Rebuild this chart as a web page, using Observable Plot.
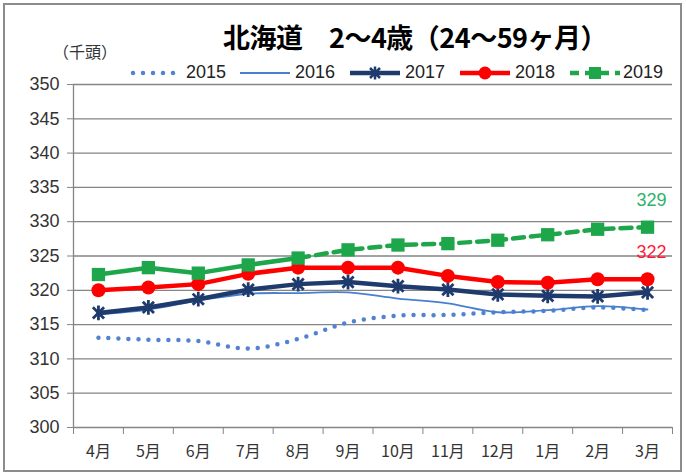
<!DOCTYPE html>
<html>
<head>
<meta charset="utf-8">
<script src="https://cdn.jsdelivr.net/npm/d3@7"></script>
<script src="https://cdn.jsdelivr.net/npm/@observablehq/plot@0.6"></script>
<style>
  html, body { margin: 0; padding: 0; background: #fff; }
  #wrap { position: relative; width: 686px; height: 475px; overflow: hidden; font-family: "Liberation Sans", Arial, "Noto Sans CJK JP", sans-serif; }
  #frame { position: absolute; left: 3px; top: 3px; width: 679px; height: 469px; box-sizing: border-box; border: 2px solid #8c8c8c; pointer-events: none; }
  #header { position: relative; height: 70px; }
  #title { position: absolute; left: 0; width: 686px; top: 19px; text-align: center; padding-left: 144px; box-sizing: border-box; font-family: "Noto Sans CJK JP", sans-serif; font-weight: bold; font-size: 27px; line-height: 36px; color: #000; white-space: pre; letter-spacing: -0.5px; }
  #unit { position: absolute; left: 53px; top: 39px; font-family: "Noto Sans CJK JP", sans-serif; font-size: 16px; color: #333; white-space: pre; }
  .lg { position: absolute; top: 62px; height: 22px; }
  .lg svg { position: absolute; top: 0; }
  .lg span { position: absolute; top: 0px; font-size: 18px; line-height: 21px; color: #222; }
  #chart svg { display: block; overflow: visible; }
</style>
</head>
<body>
<div id="wrap">
  <div id="header">
    <div id="title"></div>
    <div id="unit"></div>
    <div id="legend"></div>
  </div>
  <div id="chart"></div>
  <div id="frame"></div>
</div>
<script>
// ---- data ----
const titleText = "北海道　2～4歳（24～59ヶ月）";
const unitText = "（千頭）";
const months = ["4月","5月","6月","7月","8月","9月","10月","11月","12月","1月","2月","3月"];
const years = ["2015","2016","2017","2018","2019"];
const v2015 = [313.1, 312.8, 312.6, 311.5, 312.9, 315.3, 316.3, 316.4, 316.8, 317.0, 317.5, 317.1];
const v2016 = [316.5, 317.2, 318.5, 319.5, 319.6, 319.7, 318.8, 318.1, 316.8, 317.1, 317.7, 317.2];
const v2017 = [316.7, 317.5, 318.7, 320.1, 320.9, 321.2, 320.6, 320.1, 319.4, 319.2, 319.1, 319.7];
const v2018 = [320.0, 320.4, 320.9, 322.4, 323.3, 323.3, 323.3, 322.1, 321.2, 321.1, 321.6, 321.6];
const v2019 = [322.3, 323.3, 322.5, 323.7, 324.7, 325.9, 326.6, 326.8, 327.3, 328.1, 328.9, 329.2];
const lastActual2019 = 4; // 8月: solid up to here, dashed after
const yTicks = [300, 305, 310, 315, 320, 325, 330, 335, 340, 345, 350];

const colors = {
  "2015": "#5283d2",
  "2016": "#4a7fd0",
  "2017": "#1f3a6c",
  "2018": "#ff0000",
  "2019": "#1ea64b"
};

// ---- header ----
document.getElementById("title").textContent = titleText;
document.getElementById("unit").textContent = unitText;

const legendPos = { "2015": [130, 186], "2016": [240, 295], "2017": [350, 405], "2018": [460, 515], "2019": [570, 623] };
const legend = document.getElementById("legend");
for (const y of years) {
  const [lx, tx] = legendPos[y];
  const item = document.createElement("div");
  item.className = "lg";
  item.style.left = "0px";
  const w = 50, c = colors[y];
  let inner = "";
  if (y === "2015") inner = `<line x1="3" y1="11" x2="${w}" y2="11" stroke="${c}" stroke-width="4.5" stroke-linecap="round" stroke-dasharray="0 10"/>`;
  if (y === "2016") inner = `<line x1="0" y1="11" x2="${w}" y2="11" stroke="${c}" stroke-width="2"/>`;
  if (y === "2017") inner = `<line x1="0" y1="11" x2="${w}" y2="11" stroke="${c}" stroke-width="4.5"/><path d="M${w/2-5},6L${w/2+5},16M${w/2-5},16L${w/2+5},6M${w/2},4.5L${w/2},17.5" stroke="${c}" stroke-width="2.5"/>`;
  if (y === "2018") inner = `<line x1="0" y1="11" x2="${w}" y2="11" stroke="${c}" stroke-width="4.5"/><circle cx="${w/2}" cy="11" r="6.5" fill="${c}"/>`;
  if (y === "2019") inner = `<line x1="0" y1="11" x2="${w}" y2="11" stroke="${c}" stroke-width="4.5" stroke-dasharray="9 6" stroke-dashoffset="0"/><rect x="${w/2-6}" y="5" width="12" height="12" fill="${c}"/>`;
  item.innerHTML = `<svg width="${w}" height="22" style="left:${lx}px">${inner}</svg><span style="left:${tx}px">${y}</span>`;
  legend.appendChild(item);
}

// ---- chart data table ----
const idx = months.map((m, i) => i);
const series = { "2015": v2015, "2016": v2016, "2017": v2017, "2018": v2018, "2019": v2019 };
const rows = y => idx.map(i => ({ i, v: series[y][i], year: y }));
const r2019 = rows("2019");
const solid2019 = r2019.filter(d => d.i <= lastActual2019);
const dash2019 = r2019.filter(d => d.i >= lastActual2019);
const endLabels = [
  { i: 11, v: v2019[11], c: "#2db36a" },
  { i: 11, v: v2018[11], c: "#ff1a3a" }
];

const boundaries = d3.range(-0.5, 12, 1);

// Excel-like star marker: an X with a vertical bar
const starSymbol = {
  draw(context, size) {
    const r = Math.sqrt(size / Math.PI);
    const a = r * 0.8;
    context.moveTo(-a, -a); context.lineTo(a, a);
    context.moveTo(-a, a); context.lineTo(a, -a);
    context.moveTo(0, -r * 1.05); context.lineTo(0, r * 1.05);
  }
};

const chart = Plot.plot({
  width: 686,
  height: 405,
  marginTop: 14,
  marginBottom: 48,
  marginLeft: 73,
  marginRight: 14,
  x: { type: "linear", domain: [-0.5, 11.5] },
  y: { type: "linear", domain: [300, 350] },
  style: { fontFamily: "'Liberation Sans', Arial, 'Noto Sans CJK JP', sans-serif", fontSize: "18px", color: "#333", background: "transparent" },
  marks: [
    Plot.gridY(yTicks.filter(t => t > 300), { stroke: "#858585", strokeOpacity: 1, strokeWidth: 1.3 }),
    Plot.axisY({ ticks: yTicks, tickSize: 6, tickPadding: 8, stroke: "#858585", fill: "#333", label: null, fontSize: 18 }),
    Plot.axisX({ ticks: boundaries, tickSize: 7, tickFormat: () => "", stroke: "#858585", label: null }),
    Plot.axisX({ ticks: idx, tickSize: 0, tickPadding: 18, tickFormat: i => months[i], fill: "#333", label: null, fontSize: 16, fontFamily: "'Noto Sans CJK JP', sans-serif" }),
    Plot.ruleX([-0.5], { stroke: "#858585", strokeWidth: 1.3 }),
    Plot.ruleY([300], { stroke: "#858585", strokeWidth: 1.3 }),
    // 2015 dotted
    Plot.line(rows("2015"), { x: "i", y: "v", stroke: colors["2015"], strokeWidth: 4.5, strokeLinecap: "round", strokeDasharray: "0 10", curve: "catmull-rom" }),
    // 2016 thin
    Plot.line(rows("2016"), { x: "i", y: "v", stroke: colors["2016"], strokeWidth: 1.8, curve: "catmull-rom" }),
    // 2017
    Plot.line(rows("2017"), { x: "i", y: "v", stroke: colors["2017"], strokeWidth: 4.5 }),
    Plot.dot(rows("2017"), { x: "i", y: "v", symbol: starSymbol, r: 7, stroke: colors["2017"], strokeWidth: 2.8 }),
    // 2018
    Plot.line(rows("2018"), { x: "i", y: "v", stroke: colors["2018"], strokeWidth: 4.5 }),
    Plot.dot(rows("2018"), { x: "i", y: "v", r: 7, fill: colors["2018"] }),
    // 2019
    Plot.line(solid2019, { x: "i", y: "v", stroke: colors["2019"], strokeWidth: 4.5 }),
    Plot.line(dash2019, { x: "i", y: "v", stroke: colors["2019"], strokeWidth: 4.5, strokeDasharray: "11 7" }),
    Plot.dot(r2019, { x: "i", y: "v", symbol: "square", r: 7.5, fill: colors["2019"] }),
    // end labels
    Plot.text(endLabels, { x: "i", y: "v", text: d => String(Math.round(d.v)), fill: "c", dy: -27, dx: 4, fontSize: 18 })
  ]
});
document.getElementById("chart").appendChild(chart);
</script>
</body>
</html>
